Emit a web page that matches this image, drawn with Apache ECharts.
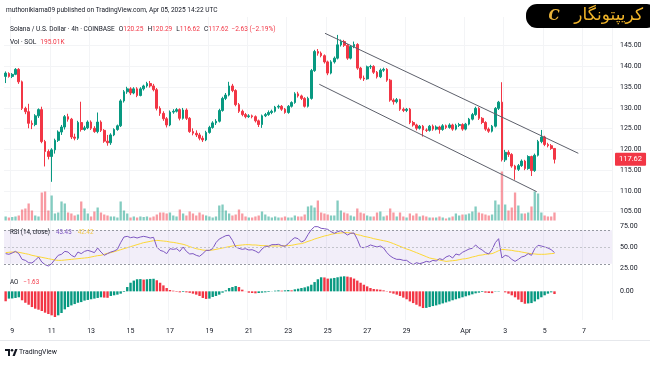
<!DOCTYPE html>
<html><head><meta charset="utf-8">
<script src="https://cdn.jsdelivr.net/npm/echarts@6/dist/echarts.min.js"></script>
<style>html,body{margin:0;padding:0;background:#fff}#c{width:650px;height:365px}</style>
</head><body><div id="c"></div>
<script>
// ---- data (4h candles, SOL/USD, Coinbase) ----
const firstCandle = '2025-03-08 16:00';
const open = [137.6,138.3,137.6,138.1,139.3,136.3,129.9,129.1,126.3,126.0,
128.1,129.6,121.9,119.5,118.3,119.9,122.2,124.2,125.4,127.9,
127.3,123.0,122.7,126.5,124.8,125.2,126.6,125.1,124.3,126.6,
124.6,122.0,121.6,123.5,124.8,125.7,131.7,133.9,134.6,133.6,
134.6,133.0,134.6,135.3,135.9,135.3,134.4,129.9,128.7,127.4,
125.9,129.0,129.2,129.6,127.5,129.5,127.5,124.3,123.9,123.5,
122.7,122.3,124.1,125.3,126.4,126.8,129.4,132.3,133.1,135.3,
134.2,130.8,129.2,128.4,127.9,128.1,127.9,126.9,126.0,128.1,
128.4,128.9,129.2,130.2,130.4,129.7,128.9,130.4,131.3,133.4,
132.9,132.3,130.4,132.3,139.0,143.6,143.2,142.6,141.1,138.4,
141.1,142.0,145.2,146.0,145.1,142.0,144.8,145.3,139.6,137.2,
137.0,139.9,140.0,138.6,137.5,139.1,139.3,136.7,131.9,131.5,
132.0,129.7,129.4,129.7,126.5,125.9,125.1,125.6,124.7,124.6,
125.6,124.9,125.4,124.8,125.7,125.3,125.9,124.9,125.8,126.0,
124.9,126.1,127.3,128.4,129.9,127.5,126.5,124.9,124.4,125.6,
129.9,131.4,117.5,119.3,118.8,116.0,115.2,116.1,117.2,115.4,
118.3,114.9,118.6,121.9,123.0,121.2,120.9,120.25];
const close = [138.4,137.6,138.1,139.3,136.3,129.9,129.1,126.3,126.0,128.1,
129.6,121.9,119.5,118.3,119.9,122.2,124.2,125.4,127.9,127.3,
123.0,122.7,126.5,124.8,125.2,126.6,125.1,124.3,126.6,124.6,
122.0,121.6,123.5,124.8,125.7,131.7,133.9,134.6,133.6,134.6,
133.0,134.6,135.3,135.9,135.3,134.4,129.9,128.7,127.4,125.9,
129.0,129.2,129.6,127.5,129.5,127.5,124.3,123.9,123.5,122.7,
122.3,124.1,125.3,126.4,126.8,129.4,132.3,133.1,135.3,134.2,
130.8,129.2,128.4,127.9,128.1,127.9,126.9,126.0,128.1,128.4,
128.9,129.2,130.2,130.4,129.7,128.9,130.4,131.3,133.4,132.9,
132.3,130.4,132.3,139.0,143.6,143.2,142.6,141.1,138.4,141.1,
142.0,145.2,146.0,145.1,142.0,144.8,145.3,139.6,137.2,137.0,
139.9,140.0,138.6,137.5,139.1,139.3,136.7,131.9,131.5,132.0,
129.7,129.4,129.7,126.5,125.9,125.1,125.6,124.7,124.6,125.6,
124.9,125.4,124.8,125.7,125.3,125.9,124.9,125.8,126.0,124.9,
126.1,127.3,128.4,129.9,127.5,126.5,124.9,124.4,125.6,129.9,
131.4,117.5,119.3,118.8,116.0,115.2,116.1,117.2,115.4,118.3,
114.9,118.6,121.9,123.0,121.2,120.9,120.25,117.62];
const low = [136.0,137.3,137.2,137.9,135.8,129.5,128.5,125.1,124.9,125.6,
127.6,121.5,115.9,117.6,112.2,119.0,121.8,123.5,124.8,126.7,
122.5,122.2,122.3,124.3,124.5,124.9,124.7,124.0,123.9,124.2,
121.6,120.9,121.1,123.2,124.5,125.4,131.3,133.4,133.1,133.3,
132.6,132.8,134.2,134.9,134.9,134.0,129.4,128.1,126.9,125.3,
125.6,128.6,128.9,127.0,127.2,127.1,124.0,123.4,123.0,122.2,
121.8,122.0,123.8,125.0,125.9,126.5,129.1,131.9,132.8,133.8,
130.4,128.8,128.0,127.5,127.6,127.5,126.5,125.4,125.2,127.8,
128.1,128.5,128.9,129.8,129.3,128.6,128.6,130.1,131.0,132.5,
131.9,130.1,130.1,132.0,138.7,142.6,142.2,140.7,137.9,138.1,
140.7,141.7,144.8,144.7,141.6,141.7,144.4,139.2,136.8,136.5,
136.8,139.4,138.2,137.1,137.2,138.7,136.3,131.5,130.8,131.1,
129.3,129.0,129.0,126.1,125.5,124.6,124.8,123.1,124.2,124.3,
124.5,124.6,123.8,124.5,124.9,125.0,124.5,124.6,125.4,124.5,
124.6,125.8,127.0,128.1,127.1,126.1,124.5,124.0,124.1,125.3,
129.5,117.1,117.0,118.2,115.6,112.7,114.8,115.8,115.0,115.1,
113.6,114.6,118.3,121.5,120.8,120.5,119.9,116.62];
const high = [138.8,138.6,138.4,139.6,139.6,136.6,130.3,131.0,127.0,128.5,
129.9,130.3,122.3,120.0,120.3,122.6,124.6,125.9,128.3,128.6,
127.6,123.8,126.9,131.5,125.7,127.0,127.0,125.6,128.9,127.0,
124.9,123.5,123.9,125.1,126.0,132.1,134.3,135.1,135.0,135.0,
135.0,135.0,135.6,136.3,136.5,135.8,134.8,130.4,129.2,127.8,
129.4,129.7,130.0,129.9,130.0,129.9,127.8,125.1,124.6,124.0,
123.3,124.5,125.7,126.8,127.3,129.8,132.7,133.6,136.3,135.8,
134.5,131.2,129.6,128.8,128.5,128.4,128.2,127.2,128.4,128.8,
129.4,129.6,130.5,130.8,130.7,130.0,130.7,131.6,133.8,133.9,
133.2,132.6,132.7,139.4,144.0,144.2,143.6,142.9,141.4,141.5,
142.4,147.6,146.5,146.4,145.4,145.1,146.0,145.6,139.9,137.8,
140.2,140.4,140.3,138.9,139.5,139.7,139.6,137.0,132.3,132.4,
132.2,130.1,130.0,130.0,126.9,126.2,125.9,125.9,125.1,125.9,
126.0,125.8,125.7,126.1,126.0,126.3,126.2,126.2,126.4,126.3,
126.4,127.6,128.8,130.3,130.2,127.8,126.8,125.3,125.9,130.2,
131.7,136.2,119.9,119.8,119.1,116.3,116.5,117.6,117.5,118.6,
118.5,119.0,122.3,124.7,123.3,121.6,121.3,120.29];
// volume in thousands of SOL
const volume = [98,73,85,98,122,268,293,415,244,122,
98,683,708,244,610,171,195,464,415,195,
171,122,146,464,293,171,98,220,317,195,
146,122,98,98,73,464,244,171,73,98,
73,98,85,98,73,98,146,195,195,171,
195,122,98,268,171,122,220,171,122,195,
146,122,98,73,98,366,390,244,171,122,
146,268,171,98,73,73,98,122,220,146,
98,73,98,73,73,98,73,73,122,98,
98,146,342,366,317,488,195,171,146,122,
122,488,244,195,171,122,98,293,195,171,
122,98,98,195,220,98,122,293,195,98,
195,98,73,171,122,171,98,122,98,73,
73,73,98,73,49,73,98,171,122,146,
146,171,220,342,195,171,146,122,146,488,
390,1196,390,244,317,683,366,171,171,195,
342,708,659,195,122,98,98,195.01];
const rsi = [42.1,41.3,42.9,44.8,42.1,35.3,34.1,31.3,31.0,34.1,
38.1,32.1,29.0,27.4,30.2,35.3,40.1,41.3,44.8,44.0,
40.1,38.1,44.0,42.1,44.8,46.0,44.8,43.3,48.8,44.0,
40.1,42.1,44.0,45.2,47.2,55.2,61.9,62.7,61.1,61.9,
60.7,61.9,62.7,61.9,60.7,61.5,50.0,46.0,44.8,42.1,
48.0,47.2,48.0,44.8,50.0,44.8,41.7,42.1,40.1,38.9,
42.1,46.0,46.0,48.0,55.2,59.5,61.5,63.5,64.0,57.9,
50.0,48.4,47.2,48.0,46.4,46.8,45.2,42.9,47.6,50.8,
50.8,52.8,52.8,53.2,51.6,50.8,54.0,58.3,61.1,59.9,
55.9,57.9,64.7,70.6,74.2,74.2,72.2,71.8,71.0,68.3,
66.3,68.3,69.4,67.1,64.3,66.3,66.7,59.1,49.6,49.2,
50.4,52.4,51.2,50.0,51.2,48.8,43.3,39.3,36.9,35.3,
35.3,34.1,34.1,31.3,29.0,31.3,30.2,31.3,32.9,32.1,
34.1,33.3,36.1,34.9,38.1,39.7,36.9,41.7,40.5,43.65,
45.6,47.6,48.4,52.4,48.8,46.4,43.3,41.7,46.8,55.2,
59.9,36.9,40.1,38.9,35.3,32.9,35.3,38.1,39.3,42.1,
40.1,48.0,52.0,51.2,50.0,48.8,46.8,43.43];
const rsiMA = [43.3,43.7,44.0,44.0,43.7,42.9,42.1,41.3,40.1,39.3,
38.5,37.7,36.9,36.1,35.3,34.5,34.1,34.1,34.5,34.9,
35.3,35.7,36.1,36.5,36.9,37.3,38.1,38.9,39.7,40.1,
41.3,42.5,43.3,44.4,45.6,46.8,48.0,49.2,50.4,51.6,
52.8,54.0,55.2,55.9,56.7,57.5,57.9,57.5,57.1,56.7,
55.9,55.5,54.8,54.0,53.2,52.0,50.4,49.2,48.0,47.2,
46.4,46.0,46.0,46.4,47.2,48.0,48.8,49.6,50.4,51.2,
51.6,52.0,52.4,52.8,52.8,52.4,52.4,52.0,51.6,51.6,
51.2,51.2,51.2,51.2,51.2,51.6,51.6,52.0,52.8,53.6,
54.0,55.2,56.7,57.9,59.5,60.7,61.9,63.1,63.9,65.1,
65.9,66.3,66.7,67.1,67.1,66.7,65.9,64.7,63.9,62.7,
61.9,61.1,59.9,59.1,58.3,57.5,56.7,55.5,54.0,52.4,
50.8,49.2,47.6,46.4,44.8,43.3,41.7,40.1,38.5,36.9,
36.1,35.3,34.5,33.7,32.9,33.3,33.7,34.1,34.9,35.7,
36.1,36.9,38.1,38.9,40.1,40.5,41.3,41.7,42.1,43.7,
45.6,47.2,46.8,46.4,46.0,45.2,44.8,44.0,43.3,42.5,
42.1,41.7,41.3,41.3,41.3,41.7,42.1,42.42];
const ao = [-6.0,-4.4,-4.3,-4.0,-3.6,-5.4,-6.9,-8.1,-9.5,-10.5,
-11.1,-11.9,-12.9,-13.7,-14.5,-15.5,-14.5,-13.1,-10.9,-9.5,
-8.5,-7.7,-6.9,-6.5,-5.6,-5.2,-4.8,-4.4,-4.0,-3.6,
-3.8,-3.9,-2.8,-2.4,-2.0,-1.4,-0.4,2.6,5.2,6.5,
7.3,7.4,7.1,7.3,7.5,7.6,6.7,5.2,3.6,2.0,
0.8,0.4,-0.3,-0.6,-0.4,-0.6,-0.9,-1.4,-2.0,-2.8,
-4.0,-4.6,-4.4,-3.4,-2.8,-2.0,-0.8,0.6,2.0,2.6,
3.2,2.6,1.0,0.05,-0.8,-1.0,-1.2,-1.0,-0.8,-0.6,
-0.4,-0.1,0.4,0.6,0.4,0.6,0.8,0.6,1.2,1.6,
2.0,2.4,3.0,4.0,5.6,7.3,8.5,8.4,7.7,7.8,
8.1,8.5,8.9,9.1,8.9,8.5,7.7,6.5,5.2,4.0,
3.0,2.0,1.4,1.2,1.0,0.6,0.2,-0.8,-1.4,-2.0,
-2.8,-3.8,-4.8,-6.1,-7.1,-8.1,-9.1,-10.1,-10.0,-9.5,
-8.9,-8.5,-7.9,-7.3,-6.7,-6.1,-5.4,-4.8,-4.2,-3.6,
-3.0,-2.4,-1.8,-1.2,-0.8,-0.4,-0.8,-1.0,-1.1,-0.2,
0.2,0.0,-0.6,-1.4,-2.4,-3.6,-5.0,-6.5,-7.5,-7.3,
-7.1,-6.1,-4.8,-3.6,-2.4,-1.4,-0.6,-1.63];
// drawn trend channel: [candle index, price]
const channelUpper = [[97.17,147.99],[174.25,119.07]];
const channelLower = [[95.44,135.70],[161.6,109.82]];
// time-axis ticks
const tickDates = ['2025-03-09','2025-03-11','2025-03-13','2025-03-15','2025-03-17','2025-03-19','2025-03-21','2025-03-23','2025-03-25','2025-03-27','2025-03-29','2025-04-01','2025-04-03','2025-04-05','2025-04-07'];
const tickLabels = ['9','11','13','15','17','19','21','23','25','27','29','Apr','3','5','7'];
const priceTicks = {min:105, max:145, step:5};

// ---- build ----
const N = 185; // category slots (data + empty future space)
const pad = n => String(n).padStart(2,'0');
const t0 = Date.parse(firstCandle.replace(' ','T')+':00Z');
const cats = [];
for (let k=0;k<N;k++){const d=new Date(t0+k*4*3600e3);cats.push(d.getUTCFullYear()+'-'+pad(d.getUTCMonth()+1)+'-'+pad(d.getUTCDate())+' '+pad(d.getUTCHours())+':00');}
const tickMap = {}; tickDates.forEach((d,j)=>{tickMap[d+' 00:00']=tickLabels[j];});
const isTick = (i)=> tickMap[cats[i]]!==undefined;

const UP='#089981', DN='#F23645';
const FONT='Roboto, "Noto Sans", sans-serif';
const AR='"DejaVu Sans", sans-serif';
const TXT='#131722';
const L=4, R=38;
const candles = open.map((o,i)=>[o,close[i],low[i],high[i]]);
const vols = volume.map((v,i)=>({value:v,itemStyle:{color: close[i]>=open[i]?'rgba(8,153,129,0.5)':'rgba(242,54,69,0.5)'}}));
const aoBars = ao.map((v,i)=>({value:v,itemStyle:{color:(i>0 && v>=ao[i-1])?'#089981':'#F23645'}}));
const last = close.length-1;
const chg = close[last]-close[last-1];
const pct = chg/close[last-1]*100;
const sgn = v => (v<0?'\u2212':'+')+Math.abs(v).toFixed(2);

// text helpers
const mctx = document.createElement('canvas').getContext('2d');
function measure(t,size,fam){mctx.font=size+'px '+(fam||FONT);return mctx.measureText(t).width;}
function fit(t,w,fam){return 10*w/measure(t,10,fam);}
function run(parts, x, y, size){
  const font = size+'px '+FONT;
  let cx = x; const out = [];
  parts.forEach(p=>{
    out.push({type:'text',z:100,x:cx,y:y,style:{text:p[0],fill:p[1],font:font,verticalAlign:'middle'}});
    cx += measure(p[0],size) + (p[2]||0);
  });
  return out;
}
const headerText = 'muthonikiama09 published on TradingView.com, Apr 05, 2025 14:22 UTC';
const symText = 'Solana / U.S. Dollar \u00b7 4h \u00b7 COINBASE';
const brandText = '\u06a9\u0631\u06cc\u067e\u062a\u0648\u0646\u06af\u0627\u0631';
const legSize = fit(symText,105);
const rsiSize = fit('RSI (14, close)',40);
const brandSize = Math.min(17, fit(brandText,78,AR));

const texts = [].concat(
  run([[headerText,TXT]],6,10,fit(headerText,212)),
  run([[symText,TXT,4],['O',TXT],[open[last].toFixed(2),DN,4],['H',TXT],[high[last].toFixed(2),DN,4],['L',TXT],[low[last].toFixed(2),DN,4],['C',TXT],[close[last].toFixed(2),DN,3],[sgn(chg)+' ('+sgn(pct)+'%)',DN]],10,29,legSize),
  run([['Vol \u00b7 SOL',TXT,4],[volume[last].toFixed(2)+'K',DN]],10,42,legSize),
  run([['RSI (14, close)',TXT,6],[rsi[last].toFixed(2),'#7E57C2',6],[rsiMA[last].toFixed(2),'#F2C94C']],10,232.5,rsiSize),
  run([['AO',TXT,5],[ao[last].toFixed(2).replace('-','\u2212'),DN]],10,282,rsiSize),
  run([['TradingView',TXT]],19,352.5,fit('TradingView',38))
);

const hiddenCat = (gi)=>({type:'category',gridIndex:gi,data:cats,boundaryGap:true,axisLine:{show:false},axisTick:{show:false},axisLabel:{show:false},splitLine:{show:false}});

const option = {
  animation:false,
  backgroundColor:'#ffffff',
  grid:[
    {left:L,right:R,top:45.7,height:166},   // price
    {left:L,right:R,top:140.5,height:80},   // volume
    {left:L,right:R,top:226,height:42},     // RSI
    {left:L,right:R,top:274.8,height:43},   // AO
    {left:L,right:R,top:17,height:303}      // vertical grid lines
  ],
  xAxis:[
    hiddenCat(0), hiddenCat(1), hiddenCat(2),
    Object.assign(hiddenCat(3),{axisLabel:{show:true,interval:(i)=>isTick(i),formatter:(v)=>tickMap[v]||'',color:TXT,fontSize:7,fontFamily:FONT,margin:10}}),
    {type:'value',gridIndex:0,min:-0.5,max:N-0.5,show:false},
    Object.assign(hiddenCat(4),{splitLine:{show:true,interval:(i)=>isTick(i),lineStyle:{color:'#f3f4f6',width:1}}})
  ],
  yAxis:[
    {type:'value',gridIndex:0,position:'right',min:priceTicks.min,max:priceTicks.max,interval:priceTicks.step,
      axisLine:{show:false},axisTick:{show:false},
      axisLabel:{color:TXT,fontSize:7,fontFamily:FONT,margin:8,formatter:v=>v.toFixed(2)},
      splitLine:{lineStyle:{color:'#f3f4f6'}}},
    {type:'value',gridIndex:1,min:0,max:1952,show:false},
    {type:'value',gridIndex:2,position:'right',min:25,max:75,interval:25,
      axisLine:{show:false},axisTick:{show:false},splitLine:{show:false},
      axisLabel:{color:TXT,fontSize:7,fontFamily:FONT,margin:8,formatter:v=>v.toFixed(2)}},
    {type:'value',gridIndex:3,position:'right',min:-16,max:10,interval:2,
      axisLine:{show:false},axisTick:{show:false},splitLine:{show:false},
      axisLabel:{color:TXT,fontSize:7,fontFamily:FONT,margin:8,formatter:v=>v===0?'0.00':''}},
    {type:'value',gridIndex:4,show:false}
  ],
  series:[
    {type:'bar',xAxisIndex:1,yAxisIndex:1,data:vols,barWidth:2.3,z:1},
    {type:'candlestick',xAxisIndex:0,yAxisIndex:0,data:candles,barWidth:2.2,clip:false,z:3,
      itemStyle:{color:UP,color0:DN,borderColor:UP,borderColor0:DN,borderWidth:1},
      markLine:{symbol:'none',silent:true,data:[{yAxis:close[last]}],lineStyle:{color:'rgba(0,0,0,0)',width:0},
        label:{show:true,position:'end',distance:3,formatter:close[last].toFixed(2),color:'#fff',backgroundColor:DN,padding:[3,4,2,4],fontSize:7.5,fontFamily:FONT,borderRadius:1}}},
    {type:'line',xAxisIndex:4,yAxisIndex:0,data:channelUpper,symbol:'none',clip:false,z:4,lineStyle:{color:'#5d606b',width:1}},
    {type:'line',xAxisIndex:4,yAxisIndex:0,data:channelLower,symbol:'none',clip:false,z:4,lineStyle:{color:'#5d606b',width:1}},
    {type:'line',xAxisIndex:2,yAxisIndex:2,data:rsiMA,symbol:'none',clip:false,z:3,lineStyle:{color:'#FDD835',width:1}},
    {type:'line',xAxisIndex:2,yAxisIndex:2,data:rsi,symbol:'none',clip:false,z:4,lineStyle:{color:'#7E57C2',width:1},
      markArea:{silent:true,itemStyle:{color:'rgba(126,87,194,0.1)'},data:[[{yAxis:30},{yAxis:70}]]},
      markLine:{symbol:'none',silent:true,label:{show:false},
        data:[{yAxis:70,lineStyle:{color:'#9598a1',type:[2,2],width:1}},{yAxis:50,lineStyle:{color:'#c3c4cb',type:[2,2],width:1}},{yAxis:30,lineStyle:{color:'#9598a1',type:[2,2],width:1}}]}},
    {type:'bar',xAxisIndex:3,yAxisIndex:3,data:aoBars,barWidth:2.4}
  ],
  graphic:texts.concat([
    // brand badge
    {type:'rect',z:100,shape:{x:526,y:4,width:132,height:24,r:11},style:{fill:'#000'}},
    {type:'text',z:101,x:554,y:16.5,style:{text:'C',fill:'#e8b23a',font:'italic bold 14px "DejaVu Serif", serif',align:'center',verticalAlign:'middle'}},
    {type:'text',z:101,x:643,y:15.5,style:{text:brandText,fill:'#f0b429',font:brandSize+'px '+AR,align:'right',verticalAlign:'middle'}},
    // footer
    {type:'line',z:100,shape:{x1:0,y1:340.5,x2:650,y2:340.5},style:{stroke:'#e6e8ec',lineWidth:1}},
    {type:'rect',z:100,shape:{x:5,y:349,width:5,height:2},style:{fill:TXT}},
    {type:'rect',z:100,shape:{x:8,y:349,width:2,height:7},style:{fill:TXT}},
    {type:'circle',z:100,shape:{cx:12,cy:350.3,r:1.3},style:{fill:TXT}},
    {type:'polygon',z:100,shape:{points:[[12.5,356],[15.2,349],[17.5,349],[14.8,356]]},style:{fill:TXT}}
  ])
};
const chart = echarts.init(document.getElementById('c'),null,{renderer:'canvas',width:650,height:365});
chart.setOption(option);
</script></body></html>
